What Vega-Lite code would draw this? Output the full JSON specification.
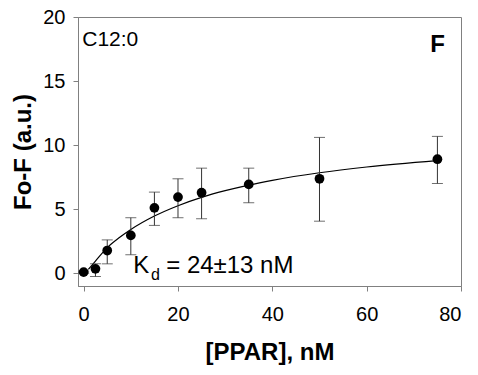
{
  "$schema": "https://vega.github.io/schema/vega-lite/v6.json",
  "autosize": "none",
  "width": 383,
  "height": 269,
  "padding": {"left": 78, "top": 17, "right": 17, "bottom": 89},
  "background": "white",
  "config": {
    "view": {"stroke": "#808080", "strokeWidth": 1},
    "font": "Liberation Sans",
    "axis": {
      "domainColor": "#808080", "tickColor": "#808080", "grid": false,
      "labelFont": "Liberation Sans", "labelFontSize": 20, "labelColor": "#000",
      "titleFont": "Liberation Sans", "titleFontSize": 24, "titleFontWeight": "bold", "titleColor": "#000",
      "tickSize": 5
    }
  },
  "datasets": {
    "pts": [
      {"conc": 0, "signal": 0.08, "lo": 0.0, "hi": 0.16},
      {"conc": 2.5, "signal": 0.34, "lo": -0.26, "hi": 0.73},
      {"conc": 5, "signal": 1.77, "lo": 0.73, "hi": 2.6},
      {"conc": 10, "signal": 2.95, "lo": 1.44, "hi": 4.33},
      {"conc": 15, "signal": 5.1, "lo": 3.73, "hi": 6.33},
      {"conc": 20, "signal": 5.94, "lo": 4.33, "hi": 7.37},
      {"conc": 25, "signal": 6.28, "lo": 4.25, "hi": 8.2},
      {"conc": 35, "signal": 6.93, "lo": 5.5, "hi": 8.2},
      {"conc": 50, "signal": 7.37, "lo": 4.06, "hi": 10.6},
      {"conc": 75, "signal": 8.9, "lo": 7.0, "hi": 10.68}
    ],
    "fit": [
      {"conc": 1, "signal": 0.3},
      {"conc": 2.5, "signal": 0.95},
      {"conc": 5, "signal": 2.0},
      {"conc": 7.5, "signal": 2.76},
      {"conc": 10, "signal": 3.41},
      {"conc": 15, "signal": 4.46},
      {"conc": 20, "signal": 5.27},
      {"conc": 25, "signal": 5.92},
      {"conc": 30, "signal": 6.44},
      {"conc": 35, "signal": 6.88},
      {"conc": 40, "signal": 7.25},
      {"conc": 50, "signal": 7.84},
      {"conc": 60, "signal": 8.29},
      {"conc": 75, "signal": 8.79}
    ]
  },
  "layer": [
    {
      "data": {"name": "fit"},
      "mark": {"type": "line", "color": "#000", "strokeWidth": 1.2, "interpolate": "monotone"},
      "encoding": {
        "x": {"field": "conc", "type": "quantitative",
              "scale": {"domain": [-1.2, 80], "nice": false, "zero": false},
              "axis": {"values": [0, 20, 40, 60, 80], "title": "[PPAR], nM", "titlePadding": 16, "labelPadding": 13}},
        "y": {"field": "signal", "type": "quantitative",
              "scale": {"domain": [-1, 20], "nice": false, "zero": false},
              "axis": {"values": [0, 5, 10, 15, 20], "title": "Fo-F (a.u.)", "titlePadding": 7, "labelPadding": 8}}
      }
    },
    {
      "data": {"name": "pts"},
      "mark": {"type": "rule", "color": "#333", "strokeWidth": 1},
      "encoding": {
        "x": {"field": "conc", "type": "quantitative"},
        "y": {"field": "lo", "type": "quantitative"},
        "y2": {"field": "hi"}
      }
    },
    {
      "data": {"name": "pts"},
      "mark": {"type": "tick", "color": "#333", "orient": "horizontal", "size": 11, "thickness": 1},
      "encoding": {
        "x": {"field": "conc", "type": "quantitative"},
        "y": {"field": "lo", "type": "quantitative"}
      }
    },
    {
      "data": {"name": "pts"},
      "mark": {"type": "tick", "color": "#333", "orient": "horizontal", "size": 11, "thickness": 1},
      "encoding": {
        "x": {"field": "conc", "type": "quantitative"},
        "y": {"field": "hi", "type": "quantitative"}
      }
    },
    {
      "data": {"name": "pts"},
      "mark": {"type": "circle", "color": "#000", "opacity": 1, "size": 95},
      "encoding": {
        "x": {"field": "conc", "type": "quantitative"},
        "y": {"field": "signal", "type": "quantitative"}
      }
    },
    {
      "data": {"values": [{}]},
      "mark": {"type": "text", "text": "C12:0", "fontSize": 21, "align": "left", "baseline": "middle", "color": "#000"},
      "encoding": {"x": {"datum": -0.3}, "y": {"datum": 18.2}}
    },
    {
      "data": {"values": [{}]},
      "mark": {"type": "text", "text": "F", "fontSize": 24, "fontWeight": "bold", "align": "left", "baseline": "middle", "color": "#000"},
      "encoding": {"x": {"datum": 73.5}, "y": {"datum": 17.8}}
    },
    {
      "data": {"values": [{}]},
      "mark": {"type": "text", "text": "K", "fontSize": 24, "align": "left", "baseline": "alphabetic", "color": "#000"},
      "encoding": {"x": {"datum": 10.5}, "y": {"datum": 0.0}}
    },
    {
      "data": {"values": [{}]},
      "mark": {"type": "text", "text": "d", "fontSize": 16, "align": "left", "baseline": "alphabetic", "color": "#000"},
      "encoding": {"x": {"datum": 14.3}, "y": {"datum": -0.5}}
    },
    {
      "data": {"values": [{}]},
      "mark": {"type": "text", "text": "= 24±13 nM", "fontSize": 24, "align": "left", "baseline": "alphabetic", "color": "#000"},
      "encoding": {"x": {"datum": 17.5}, "y": {"datum": 0.0}}
    }
  ]
}
